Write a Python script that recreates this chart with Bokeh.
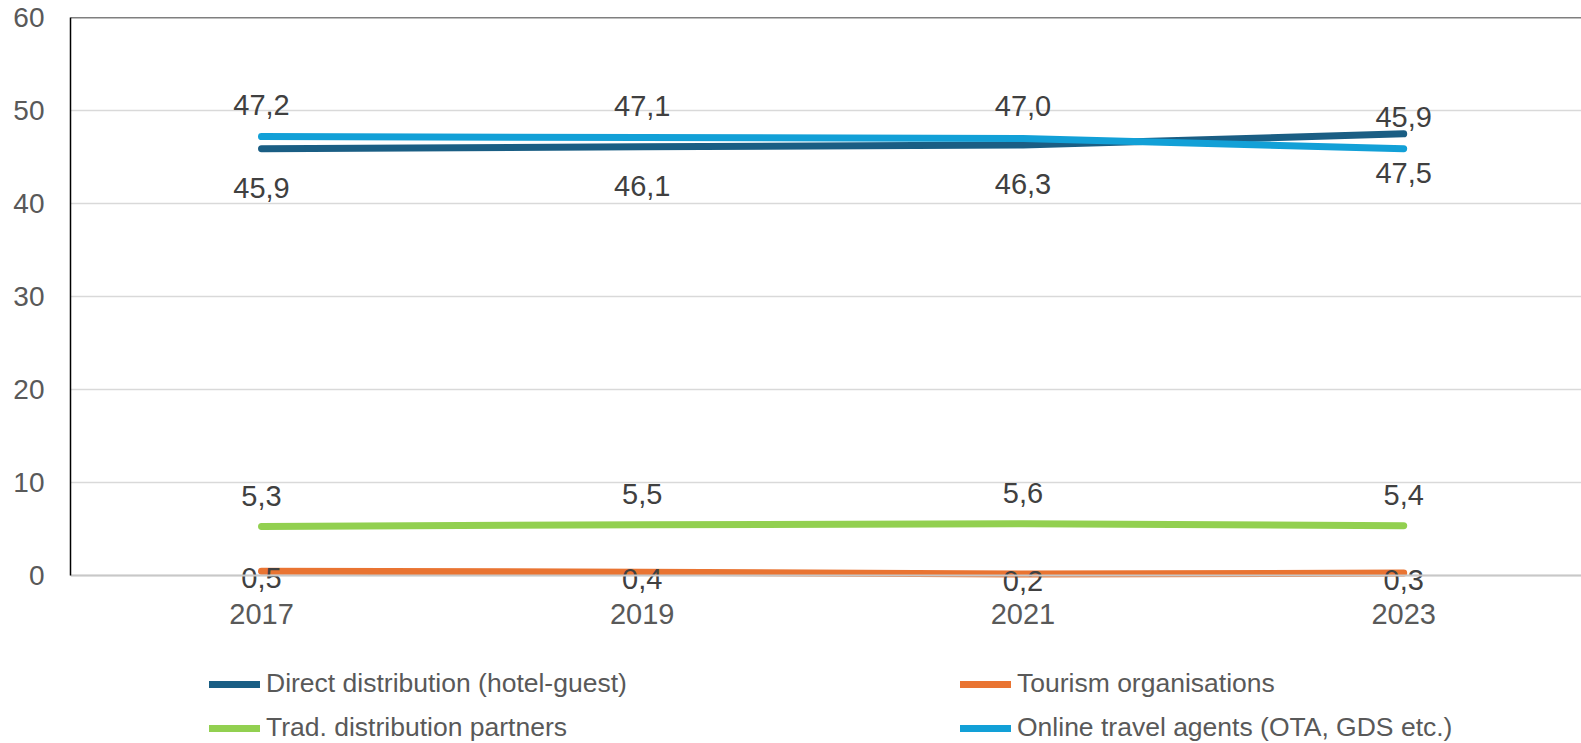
from bokeh.plotting import figure
from bokeh.models import (Range1d, FixedTicker, Span, Legend, LegendItem, ColumnDataSource)
from bokeh.core.properties import value
from bokeh.embed import file_html
from bokeh.resources import INLINE

# ---- data ----
years = ["2017", "2019", "2021", "2023"]
direct = [45.9, 46.1, 46.3, 47.5]
trad = [5.3, 5.5, 5.6, 5.4]
tourism = [0.5, 0.4, 0.2, 0.3]
ota = [47.2, 47.1, 47.0, 45.9]
y_ticks = [0, 10, 20, 30, 40, 50, 60]

names = ["Direct distribution (hotel-guest)", "Trad. distribution partners",
         "Tourism organisations", "Online travel agents (OTA, GDS etc.)"]
colors = ["#1a5e84", "#92d050", "#e97432", "#12a0d7"]
series = [direct, trad, tourism, ota]
label_offsets = [39, -31, 7, -32]

FONT = "Liberation Sans"
xs = list(range(len(years)))

# frame spans the whole lower area so the legend can sit inside it
p = figure(width=1581, height=743, output_backend="svg", toolbar_location=None,
           x_range=Range1d(-0.5017, 3.467), y_range=Range1d(-18.01, 60),
           min_border_left=70, min_border_right=0, min_border_top=17, min_border_bottom=0)
p.outline_line_color = None
p.background_fill_color = "white"

# grid
p.xgrid.grid_line_color = None
p.ygrid.grid_line_color = "#d9d9d9"
p.ygrid.grid_line_width = 1.5
p.ygrid.ticker = FixedTicker(ticks=y_ticks)

# y axis
p.yaxis.ticker = FixedTicker(ticks=y_ticks)
p.yaxis.bounds = (0, 60)
p.yaxis.axis_line_color = "black"
p.yaxis.axis_line_width = 1.5
p.yaxis.major_tick_line_color = None
p.yaxis.minor_tick_line_color = None
p.yaxis.major_label_standoff = 20
p.yaxis.major_label_text_font = FONT
p.yaxis.major_label_text_font_size = "28px"
p.yaxis.major_label_text_color = "#595959"

# category axis drawn at value 0
p.xaxis.fixed_location = 0
p.xaxis.ticker = FixedTicker(ticks=xs)
p.xaxis.major_label_overrides = {i: y for i, y in zip(xs, years)}
p.xaxis.axis_line_color = "#c8c8c8"
p.xaxis.axis_line_width = 2
p.xaxis.major_tick_line_color = None
p.xaxis.minor_tick_line_color = None
p.xaxis.major_label_standoff = 22
p.xaxis.major_label_text_font = FONT
p.xaxis.major_label_text_font_size = "29px"
p.xaxis.major_label_text_color = "#595959"

# top border of the plot area
p.add_layout(Span(location=60, dimension="width", line_color="black", line_width=1.5))

renderers = []
for vals, col in zip(series, colors):
    r = p.line(xs, vals, line_color=col, line_width=7, line_cap="round", line_join="round")
    renderers.append(r)

for vals, off in zip(series, label_offsets):
    src = ColumnDataSource(dict(x=xs, y=vals, t=[f"{v:.1f}".replace(".", ",") for v in vals]))
    p.text(x="x", y="y", text="t", source=src, text_font=value(FONT), text_font_size="29px",
           text_color="#404040", text_align="center", text_baseline="middle", y_offset=off)

def make_legend(idx, loc):
    lg = Legend(items=[LegendItem(label=names[i], renderers=[renderers[i]]) for i in idx],
                location=loc, orientation="vertical",
                padding=0, margin=0, spacing=13, border_line_color=None,
                background_fill_alpha=0, glyph_width=51, glyph_height=30,
                label_height=30, label_standoff=6,
                label_text_font=FONT, label_text_font_size="26.5px",
                label_text_color="#595959")
    p.add_layout(lg, "center")

make_legend([0, 1], (139, 0))
make_legend([2, 3], (890, 0))

open("out.html", "w").write(file_html(p, INLINE))
